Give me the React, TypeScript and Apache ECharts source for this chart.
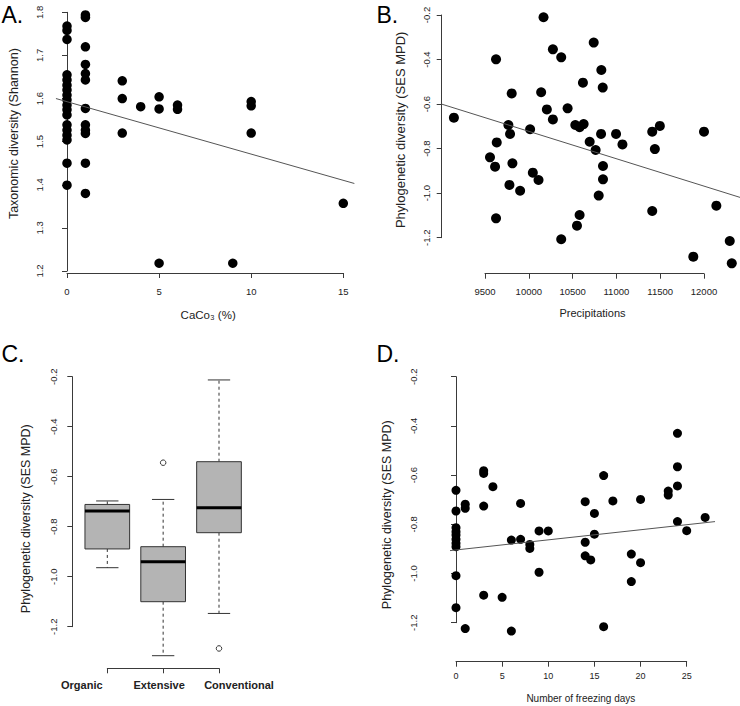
import React, { useEffect, useRef } from 'react';
import * as echarts from 'echarts';

const FONT = "'Liberation Sans', Arial, Helvetica, sans-serif";
const AXIS = '#3a3a3a';
const TXT = '#222';

// ---------- Panel A ----------
const caco3 = [
  0, 0, 0, 0, 0, 0, 0, 0, 0, 0, 0, 0, 0, 0, 0, 0, 0, 0,
  1, 1, 1, 1, 1, 1, 1, 1, 1, 1, 1, 1,
  3, 3, 3,
  4,
  5, 5, 5,
  6, 6,
  9,
  10, 10, 10,
  15,
];
const shannon = [
  1.768, 1.758, 1.737, 1.655, 1.643, 1.631, 1.62, 1.608, 1.597, 1.585, 1.574, 1.562, 1.539, 1.527, 1.515, 1.504, 1.45, 1.399,
  1.794, 1.788, 1.72, 1.679, 1.658, 1.643, 1.577, 1.539, 1.527, 1.519, 1.45, 1.38,
  1.641, 1.6, 1.52,
  1.581,
  1.604, 1.576, 1.218,
  1.585, 1.575,
  1.218,
  1.593, 1.583, 1.52,
  1.357,
];
const fitA = [[-0.6, 1.6], [15.6, 1.403]];

// ---------- Panel B ----------
const precipitations = [
  9145, 9557, 9615, 9626, 9634, 9626, 9767, 9786, 9779, 9805, 9813, 9901, 10015, 10046, 10111, 10141, 10168,
  10206, 10275, 10275, 10370, 10370, 10443, 10531, 10550, 10580, 10580, 10626, 10618, 10695, 10741, 10763,
  10798, 10825, 10828, 10844, 10847, 10847, 10996, 11069, 11409, 11409, 11439, 11496, 11878, 12000, 12141,
  12294, 12317,
];
const sesMpdB = [
  -0.661, -0.839, -0.881, -0.399, -0.772, -1.113, -0.694, -0.734, -0.963, -0.552, -0.866, -0.989, -0.713, -0.908, -0.941, -0.547, -0.21,
  -0.624, -0.354, -0.669, -0.39, -1.207, -0.619, -0.694, -1.146, -0.704, -1.098, -0.69, -0.504, -0.769, -0.324, -0.806,
  -1.011, -0.734, -0.447, -0.526, -0.878, -0.938, -0.734, -0.781, -0.724, -1.08, -0.802, -0.698, -1.285, -0.724, -1.056,
  -1.215, -1.315,
];
const fitB = [[9004, -0.6], [12444, -1.023]];

// ---------- Panel C ----------
const managements = ['Organic', 'Extensive', 'Conventional'];
// lower whisker, Q1, median, Q3, upper whisker
const boxLow = [-0.964, -1.316, -1.147];
const boxQ1 = [-0.889, -1.1, -0.824];
const boxMedian = [-0.737, -0.94, -0.724];
const boxQ3 = [-0.711, -0.88, -0.54];
const boxHigh = [-0.697, -0.691, -0.213];
const outlierGroup = [1, 2];
const outlierValue = [-0.544, -1.287];

// ---------- Panel D ----------
const freezingDays = [
  0, 0, 0, 0, 0, 0, 0, 0, 0, 0,
  1, 1, 1,
  3, 3, 3, 3,
  4, 5, 6, 6, 7, 7, 8, 8, 9, 9, 10,
  14, 14, 14, 14.6, 15, 15, 16, 16, 17, 19, 19, 20, 20,
  23, 23, 24, 24, 24, 24, 25, 27,
];
const sesMpdD = [
  -0.662, -0.746, -0.814, -0.83, -0.843, -0.861, -0.877, -0.891, -1.009, -1.139,
  -0.718, -0.735, -1.224,
  -0.582, -0.593, -0.726, -1.088,
  -0.647, -1.097, -0.864, -1.234, -0.715, -0.861, -0.882, -0.898, -0.827, -0.995, -0.827,
  -0.708, -0.873, -0.928, -0.945, -0.756, -0.84, -0.602, -1.216, -0.705, -0.921, -1.033, -0.699, -0.956,
  -0.665, -0.681, -0.43, -0.566, -0.644, -0.789, -0.826, -0.772,
];
const fitD = [[-0.65, -0.907], [28.07, -0.789]];

const zip = (xs: number[], ys: number[]) => xs.map((x, i) => [x, ys[i]]);

const lineStyleAxis = { show: true, lineStyle: { color: AXIS, width: 1 } };
const tickStyle = { show: true, length: 5, lineStyle: { color: AXIS, width: 1 } };
const fmt1 = (v: number) => v.toFixed(1);

function valueX(gridIndex: number, min: number, max: number, interval: number, offset: number, name: string,
  nameGap: number, nameSize: number, namePad: number[], labelSize: number, labelMargin: number) {
  return {
    gridIndex, type: 'value', min, max, interval, offset, position: 'bottom',
    axisLine: lineStyleAxis, axisTick: tickStyle, splitLine: { show: false },
    axisLabel: { fontSize: labelSize, fontFamily: FONT, color: TXT, margin: labelMargin, formatter: (v: number) => String(v) },
    name, nameLocation: 'middle', nameGap,
    nameTextStyle: { fontSize: nameSize, fontFamily: FONT, color: TXT, padding: namePad },
  };
}

function valueY(gridIndex: number, min: number, max: number, interval: number, offset: number, name: string,
  nameGap: number, nameSize: number, namePad: number[], labelMargin: number) {
  return {
    gridIndex, type: 'value', min, max, interval, offset, position: 'left',
    axisLine: lineStyleAxis, axisTick: tickStyle, splitLine: { show: false },
    axisLabel: { rotate: 90, fontSize: 9.5, fontFamily: FONT, color: TXT, margin: labelMargin, formatter: fmt1 },
    name, nameLocation: 'middle', nameGap, nameRotate: 90,
    nameTextStyle: { fontSize: nameSize, fontFamily: FONT, color: TXT, padding: namePad },
  };
}

function scatter(idx: number, data: number[][], size: number) {
  return {
    type: 'scatter', xAxisIndex: idx, yAxisIndex: idx, data, symbol: 'circle', symbolSize: size,
    itemStyle: { color: '#000', opacity: 1 }, clip: false, z: 2, emphasis: { disabled: true },
  };
}

// regression line: drawn through the axes' scales, never clipped
function fit(idx: number, ends: number[][]) {
  return {
    type: 'custom', xAxisIndex: idx, yAxisIndex: idx, clip: false, silent: true, z: 3,
    data: [[ends[0][0], ends[0][1], ends[1][0], ends[1][1]]],
    encode: { x: [0, 2], y: [1, 3] },
    renderItem: (_p: any, api: any) => {
      const a = api.coord([api.value(0), api.value(1)]);
      const b = api.coord([api.value(2), api.value(3)]);
      return {
        type: 'line', shape: { x1: a[0], y1: a[1], x2: b[0], y2: b[1] },
        style: { stroke: '#555', lineWidth: 1, fill: null },
      };
    },
  };
}

export default function App() {
  const ref = useRef<HTMLDivElement>(null);
  useEffect(() => {
    if (!ref.current) return;
    const chart = echarts.init(ref.current, undefined, { renderer: 'svg' });
    const boxData = managements.map((_, i) => [i, boxLow[i], boxQ1[i], boxMedian[i], boxQ3[i], boxHigh[i]]);
    const outliers = outlierGroup.map((g, i) => [g, outlierValue[i]]);
    const letter = (text: string, x: number, y: number) => ({
      type: 'text', x, y, style: { text, fontSize: 23, fontFamily: FONT, fill: '#000', verticalAlign: 'middle', align: 'left' },
    });
    chart.setOption({
      animation: false,
      backgroundColor: '#fff',
      grid: [
        { left: 67, top: 12.3, width: 276.3, height: 258.7 },
        { left: 485, top: 15, width: 219, height: 222.7 },
        { left: 107.3, top: 376.7, width: 111.7, height: 250 },
        { left: 456, top: 376.7, width: 230.7, height: 246 },
      ],
      xAxis: [
        valueX(0, 0, 15, 5, 2, 'CaCo₃ (%)', 36, 11.5, [0, 0, 0, 6], 9.5, 13),
        valueX(1, 9500, 12000, 500, 36, 'Precipitations', 33.5, 11, [0, 4, 0, 0], 9.5, 12.5),
        {
          gridIndex: 2, type: 'category', data: managements, boundaryGap: false, offset: 41.6, position: 'bottom',
          axisLine: lineStyleAxis, axisTick: { ...tickStyle, interval: 0 }, splitLine: { show: false },
          axisLabel: {
            interval: 0, margin: 11.5,
            formatter: (v: string) => (v === 'Organic' ? `{o|${v}}` : v === 'Extensive' ? `{e|${v}}` : `{c|${v}}`),
            rich: {
              o: { fontSize: 11, fontWeight: 'bold', fontFamily: FONT, color: TXT, padding: [0, 51, 0, 0] },
              e: { fontSize: 11, fontWeight: 'bold', fontFamily: FONT, color: TXT, padding: [0, 8, 0, 0] },
              c: { fontSize: 11, fontWeight: 'bold', fontFamily: FONT, color: TXT, padding: [0, 0, 0, 40] },
            },
          },
        },
        valueX(3, 0, 25, 5, 39, 'Number of freezing days', 32, 10, [0, 0, 0, 19], 9, 10),
      ],
      yAxis: [
        valueY(0, 1.2, 1.8, 0.1, 12, 'Taxonomic diversity (Shannon)', 34.5, 12.5, [0, 0, 0, 16], 10.5),
        valueY(1, -1.2, -0.2, 0.2, 43.3, 'Phylogenetic diversity (SES MPD)', 34.5, 13, [0, 7, 0, 0], 10.5),
        valueY(2, -1.2, -0.2, 0.2, 35, 'Phylogenetic diversity (SES MPD)', 40, 12.5, [0, 34, 0, 0], 14),
        valueY(3, -1.2, -0.2, 0.2, 26.7, 'Phylogenetic diversity (SES MPD)', 35.5, 12.5, [0, 30, 0, 0], 10.5),
      ],
      series: [
        scatter(0, zip(caco3, shannon), 9.5),
        fit(0, fitA),
        scatter(1, zip(precipitations, sesMpdB), 10),
        fit(1, fitB),
        {
          type: 'custom', xAxisIndex: 2, yAxisIndex: 2, data: boxData, clip: false,
          encode: { x: 0, y: [1, 2, 3, 4, 5] },
          renderItem: (_params: any, api: any) => {
            const i = api.value(0);
            const low = api.coord([i, api.value(1)]);
            const q1 = api.coord([i, api.value(2)]);
            const med = api.coord([i, api.value(3)]);
            const q3 = api.coord([i, api.value(4)]);
            const high = api.coord([i, api.value(5)]);
            const band = api.size([1, 0])[0];
            const half = band * 0.4;
            const cap = half * 0.5;
            const cx = med[0];
            const dash = { stroke: '#333', lineWidth: 1, lineDash: [3, 3], fill: null };
            const solid = { stroke: '#333', lineWidth: 1, fill: null };
            return {
              type: 'group',
              children: [
                { type: 'line', shape: { x1: cx, y1: q3[1], x2: cx, y2: high[1] }, style: dash },
                { type: 'line', shape: { x1: cx, y1: q1[1], x2: cx, y2: low[1] }, style: dash },
                { type: 'line', shape: { x1: cx - cap, y1: high[1], x2: cx + cap, y2: high[1] }, style: solid },
                { type: 'line', shape: { x1: cx - cap, y1: low[1], x2: cx + cap, y2: low[1] }, style: solid },
                {
                  type: 'rect', shape: { x: cx - half, y: q3[1], width: 2 * half, height: q1[1] - q3[1] },
                  style: { fill: '#b4b4b4', stroke: '#333', lineWidth: 1 },
                },
                { type: 'line', shape: { x1: cx - half, y1: med[1], x2: cx + half, y2: med[1] }, style: { stroke: '#000', lineWidth: 3 } },
              ],
            };
          },
        },
        {
          type: 'scatter', xAxisIndex: 2, yAxisIndex: 2, data: outliers, symbol: 'circle', symbolSize: 5.5, clip: false,
          itemStyle: { color: '#fff', borderColor: '#333', borderWidth: 1, opacity: 1 }, emphasis: { disabled: true },
        },
        scatter(3, zip(freezingDays, sesMpdD), 9),
        fit(3, fitD),
      ],
      graphic: [
        letter('A.', 1.5, 14.5),
        letter('B.', 376.5, 14.5),
        letter('C.', 1.5, 353.5),
        letter('D.', 376.5, 353.5),
      ],
    });
    return () => chart.dispose();
  }, []);
  return <div ref={ref} style={{ position: 'fixed', left: 0, top: 0, width: 740, height: 706, background: '#fff' }} />;
}
